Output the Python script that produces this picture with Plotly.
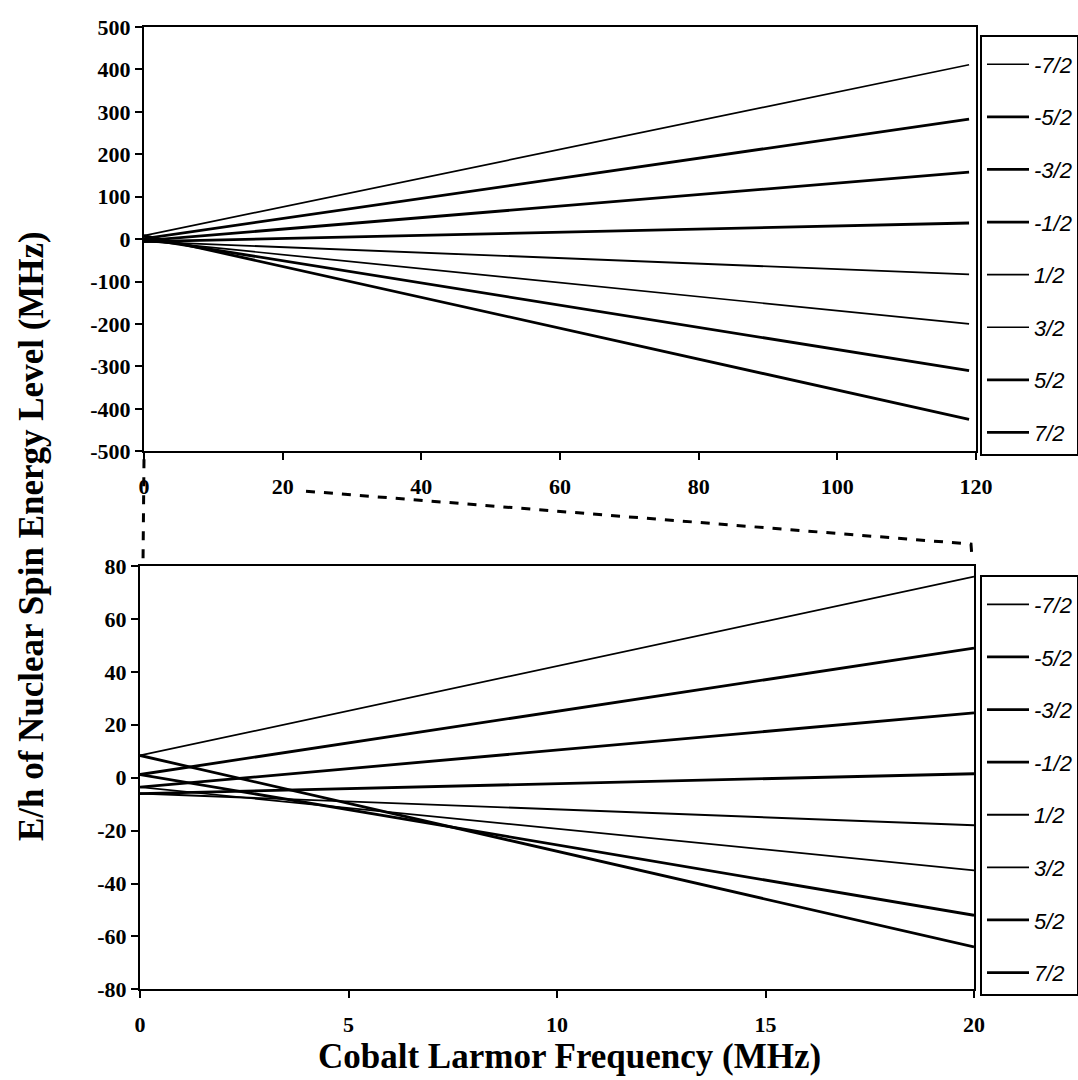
import plotly.graph_objects as go

W, H = 1100, 1103

labels = ["-7/2", "-5/2", "-3/2", "-1/2", "1/2", "3/2", "5/2", "7/2"]
widths = [1.7, 2.8, 2.8, 2.8, 1.9, 1.7, 2.8, 2.8]

# Top panel (0-120 MHz): start and end points of each level
top_x = [0, 119]
top_start = [8.4, 1.2, -3.6, -6.0, -6.0, -3.6, 1.2, 8.4]
top_end = [411, 283, 158, 38, -83, -200, -310, -425]

# Bottom panel (0-20 MHz)
bot_x = [0, 20]
bot_start = [8.4, 1.2, -3.6, -6.0, -6.0, -3.6, 1.2, 8.4]
bot_end = [76, 49, 24.5, 1.5, -18, -35, -52, -64]

top_xticks = [0, 20, 40, 60, 80, 100, 120]
top_yticks = [500, 400, 300, 200, 100, 0, -100, -200, -300, -400, -500]
top_yticklabels = ["500", "400", "300", "200", "100", "0", "-100", "-200", "-300", "-400", "-500"]
bot_xticks = [0, 5, 10, 15, 20]
bot_yticks = [80, 60, 40, 20, 0, -20, -40, -60, -80]
bot_yticklabels = ["80", "60", "40", "20", "0", "-20", "-40", "-60", "-80"]


def px(x):
    # target screen x (pixels) -> paper fraction
    return ((x - 5) / 0.98) / W


def py(y):
    # target screen y (pixels) -> paper fraction
    return 1 - ((y - 10) / 0.979) / H


fig = go.Figure()
for i, lab in enumerate(labels):
    fig.add_trace(go.Scatter(
        x=top_x, y=[top_start[i], top_end[i]], mode="lines", name=lab,
        line=dict(color="black", width=widths[i]),
        xaxis="x", yaxis="y", legend="legend", legendgroup="t" + str(i)))
for i, lab in enumerate(labels):
    fig.add_trace(go.Scatter(
        x=bot_x, y=[bot_start[i], bot_end[i]], mode="lines", name=lab,
        line=dict(color="black", width=widths[i]),
        xaxis="x2", yaxis="y2", legend="legend2", legendgroup="b" + str(i)))

tickfont = dict(family="Liberation Serif", size=22, color="black", weight="bold")
axis_common = dict(showgrid=False, zeroline=False, showline=True, linecolor="black",
                   linewidth=2, mirror=True, ticks="outside", ticklen=7,
                   tickwidth=1.5, tickcolor="black", tickfont=tickfont)

legfont = dict(family="Liberation Sans", size=22, color="black", style="italic")
leg_common = dict(bgcolor="white", bordercolor="black", borderwidth=2,
                  font=legfont, traceorder="grouped", tracegroupgap=21,
                  itemwidth=42, xanchor="left", yanchor="top",
                  title=dict(text=" ", font=dict(size=5)))

fig.update_layout(
    width=W, height=H,
    margin=dict(l=0, r=0, t=0, b=0),
    paper_bgcolor="white", plot_bgcolor="white",
    xaxis=dict(domain=[px(143), px(975)], range=[0, 120], tickvals=top_xticks,
               anchor="y", ticklabelstandoff=7, **axis_common),
    yaxis=dict(domain=[py(450), py(25)], range=[-500, 500], tickvals=top_yticks,
               ticktext=top_yticklabels, anchor="x", ticklabelstandoff=0, **axis_common),
    xaxis2=dict(domain=[px(139), px(973)], range=[0, 20], tickvals=bot_xticks,
                anchor="y2", ticklabelstandoff=7, **axis_common),
    yaxis2=dict(domain=[py(989), py(565)], range=[-80, 80], tickvals=bot_yticks,
                ticktext=bot_yticklabels, anchor="x2", ticklabelstandoff=0, **axis_common),
    legend=dict(x=px(979), y=py(33), **leg_common),
    legend2=dict(x=px(979), y=py(574), **leg_common),
    annotations=[
        dict(text="<b>E/h of Nuclear Spin Energy Level (MHz)</b>", textangle=-90,
             x=px(30), y=py(535), xref="paper", yref="paper", showarrow=False,
             xanchor="center", yanchor="middle",
             font=dict(family="Liberation Serif", size=35, color="black")),
        dict(text="<b>Cobalt Larmor Frequency (MHz)</b>",
             x=px(568), y=py(1056), xref="paper", yref="paper", showarrow=False,
             xanchor="center", yanchor="middle",
             font=dict(family="Liberation Serif", size=35, color="black")),
    ],
    shapes=[
        dict(type="line", xref="paper", yref="paper", x0=px(143), y0=py(458),
             x1=px(142), y1=py(563), line=dict(color="black", width=3, dash="dash")),
        dict(type="path", xref="paper", yref="paper",
             path=f"M {px(305)},{py(490)} L {px(970)},{py(543)} L {px(971)},{py(557)}",
             line=dict(color="black", width=3, dash="dash")),
    ],
)

fig.write_html("out.html")
